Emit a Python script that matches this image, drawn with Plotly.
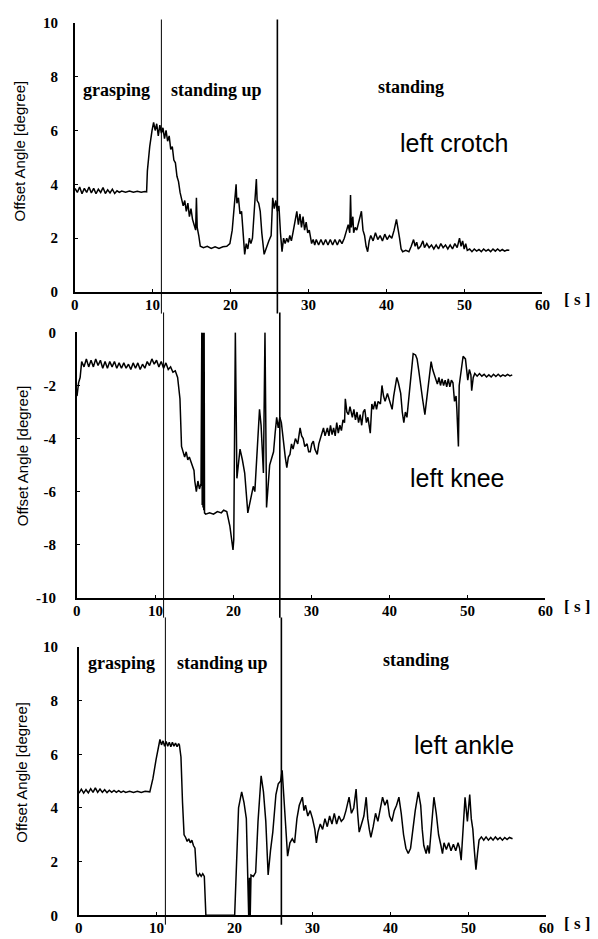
import plotly.graph_objects as go

# ---------------- data ----------------
x_ticks = [0, 10, 20, 30, 40, 50, 60]
phase_times = [11.1, 26.0]
phase_labels = ["grasping", "standing up", "standing"]
joint_names = ["left crotch", "left knee", "left ankle"]
y_label = "Offset Angle [degree]"
x_unit = "[ s ]"

crotch = [(0.0,3.85),(0.3,3.7),(0.6,3.9),(0.9,3.65),(1.2,3.85),(1.5,3.7),(1.8,3.9),(2.1,3.68),(2.4,3.85),(2.7,3.65),
(3.0,3.82),(3.3,3.7),(3.6,3.88),(3.9,3.66),(4.2,3.8),(4.5,3.68),(4.8,3.82),(5.1,3.66),(5.4,3.76),(5.7,3.7),(6.0,3.75),
(6.5,3.71),(7.0,3.75),(7.5,3.71),(8.0,3.74),(8.5,3.71),(9.0,3.73),(9.2,3.72),(9.3,4.5),(9.6,5.4),(9.9,6.0),(10.1,6.3),
(10.3,6.0),(10.5,6.25),(10.7,5.8),(10.9,6.2),(11.1,5.9),(11.3,6.1),(11.5,5.7),(11.7,6.0),(11.9,5.6),(12.1,5.8),(12.3,5.3),
(12.5,5.4),(12.7,4.9),(12.9,4.8),(13.1,4.3),(13.3,4.1),(13.5,3.7),(13.7,3.5),(13.9,3.2),(14.1,3.4),(14.3,3.0),(14.5,3.3),
(14.7,2.8),(14.9,3.1),(15.1,2.7),(15.3,2.5),(15.5,2.3),(15.6,3.5),(15.7,2.4),(15.9,2.1),(16.1,1.7),(16.5,1.65),(17.0,1.7),
(17.5,1.62),(18.0,1.68),(18.5,1.62),(19.0,1.68),(19.5,1.7),(19.9,1.8),(20.2,2.3),(20.5,3.4),(20.7,4.0),(20.8,3.3),(21.0,3.5),
(21.2,2.9),(21.4,3.0),(21.6,2.2),(21.8,1.4),(22.0,1.8),(22.2,1.6),(22.4,2.0),(22.6,1.8),(22.8,2.0),(23.0,2.8),(23.3,4.2),
(23.4,3.4),(23.6,3.3),(23.8,3.0),(24.0,2.2),(24.3,1.4),(24.6,1.7),(24.9,1.9),(25.2,2.1),(25.4,3.5),(25.6,3.1),(25.8,3.4),
(26.0,3.0),(26.2,3.2),(26.4,2.2),(26.6,1.5),(26.8,2.0),(27.0,1.8),(27.2,2.0),(27.4,1.85),(27.6,2.1),(27.8,1.9),(28.0,2.2),
(28.3,2.7),(28.5,3.0),(28.7,2.5),(28.9,2.9),(29.1,2.4),(29.3,2.8),(29.5,2.3),(29.7,2.6),(29.9,2.2),(30.1,2.3),(30.4,1.8),
(30.6,1.95),(30.8,1.75),(31.0,1.95),(31.3,1.75),(31.6,1.95),(31.9,1.75),(32.2,1.95),(32.5,1.75),(32.8,1.95),(33.1,1.75),
(33.4,1.95),(33.7,1.75),(34.0,1.95),(34.3,1.8),(34.6,2.0),(34.9,2.3),(35.1,2.5),(35.3,2.2),(35.4,3.6),(35.5,2.4),(35.7,2.8),
(35.8,2.2),(36.0,2.4),(36.2,2.3),(36.5,2.6),(36.8,3.0),(37.0,2.3),(37.2,2.1),(37.4,1.7),(37.6,1.5),(37.8,1.9),(38.0,2.1),
(38.3,1.9),(38.6,2.2),(38.9,1.95),(39.2,2.1),(39.5,1.9),(39.8,2.15),(40.1,1.95),(40.4,2.1),(40.7,2.0),(41.0,2.3),(41.3,2.7),
(41.5,2.4),(41.7,2.0),(41.9,1.6),(42.1,1.5),(42.5,1.55),(42.9,1.5),(43.2,1.7),(43.5,1.95),(43.7,1.7),(43.9,1.85),(44.1,1.6),
(44.4,1.7),(44.7,1.9),(44.9,1.65),(45.2,1.8),(45.5,1.65),(45.8,1.75),(46.1,1.6),(46.4,1.75),(46.7,1.6),(47.0,1.8),(47.3,1.65),
(47.6,1.75),(47.9,1.6),(48.2,1.75),(48.5,1.6),(48.8,1.8),(49.1,1.65),(49.4,2.0),(49.6,1.7),(49.8,1.9),(50.0,1.6),(50.2,1.8),
(50.4,1.55),(50.7,1.6),(51.0,1.5),(51.3,1.6),(51.6,1.52),(51.9,1.58),(52.2,1.5),(52.5,1.6),(52.8,1.52),(53.1,1.58),(53.4,1.5),
(53.7,1.6),(54.0,1.52),(54.3,1.6),(54.6,1.52),(54.9,1.58),(55.2,1.52),(55.5,1.56),(55.8,1.55)]

knee = [(0.0,-2.4),(0.2,-1.9),(0.4,-1.7),(0.6,-1.1),(0.9,-1.3),(1.2,-1.0),(1.5,-1.3),(1.8,-1.05),(2.1,-1.3),(2.4,-1.0),
(2.7,-1.25),(3.0,-1.05),(3.3,-1.35),(3.6,-1.1),(3.9,-1.35),(4.2,-1.1),(4.5,-1.3),(4.8,-1.1),(5.1,-1.35),(5.4,-1.15),(5.7,-1.35),
(6.0,-1.15),(6.3,-1.35),(6.6,-1.2),(6.9,-1.4),(7.2,-1.15),(7.5,-1.35),(7.8,-1.15),(8.1,-1.4),(8.4,-1.2),(8.7,-1.35),(9.0,-1.1),
(9.3,-1.25),(9.6,-1.0),(9.9,-1.2),(10.2,-1.05),(10.5,-1.3),(10.8,-1.1),(11.1,-1.35),(11.4,-1.15),(11.7,-1.4),(12.0,-1.3),
(12.3,-1.5),(12.6,-1.45),(12.9,-1.7),(13.2,-2.5),(13.4,-4.3),(13.6,-4.5),(13.8,-4.7),(14.0,-4.5),(14.2,-4.8),(14.4,-4.7),
(14.6,-4.9),(14.8,-5.0),(15.0,-5.2),(15.1,-5.6),(15.3,-6.0),(15.5,-5.6),(15.7,-5.9),(15.9,-5.7),(16.0,0.0),(16.05,-6.5),
(16.1,0.0),(16.15,-6.6),(16.2,0.0),(16.25,-6.7),(16.3,0.0),(16.35,-6.8),(16.5,-6.85),(17.0,-6.8),(17.5,-6.85),(18.0,-6.75),
(18.5,-6.8),(18.8,-6.7),(19.2,-6.75),
(19.6,-7.3),(20.0,-8.2),(20.1,-7.8),(20.3,0.0),(20.5,-5.5),(20.9,-4.4),(21.2,-4.8),(21.5,-5.3),(21.9,-6.8),(22.3,-6.2),
(22.6,-5.8),(22.8,-6.0),(23.1,-4.5),(23.4,-2.9),(23.6,-3.5),(23.9,-5.3),(24.1,0.0),(24.3,-6.6),(24.7,-5.0),(25.0,-4.7),
(25.2,-4.5),(25.4,-3.8),(25.6,-3.2),(25.8,-3.6),(26.0,-3.2),(26.2,-3.4),(26.4,-4.0),(26.7,-4.7),(26.9,-5.1),(27.1,-4.7),
(27.3,-4.6),(27.5,-4.2),(27.7,-4.4),(28.0,-4.0),(28.3,-4.2),(28.6,-3.6),(28.8,-3.9),(29.0,-4.0),(29.2,-4.3),(29.5,-4.2),
(29.7,-4.5),(29.9,-4.5),(30.1,-4.2),(30.3,-4.1),(30.5,-4.4),(30.8,-4.6),(31.0,-4.2),(31.2,-4.0),(31.4,-3.8),(31.6,-3.6),
(31.8,-3.9),(32.1,-3.6),(32.3,-3.9),(32.5,-3.5),(32.7,-3.85),(32.9,-3.6),(33.1,-3.9),(33.3,-3.4),(33.5,-3.8),(33.7,-3.5),
(33.9,-3.7),(34.1,-3.3),(34.3,-3.4),(34.4,-2.5),(34.6,-3.0),(34.8,-3.1),(35.0,-2.8),(35.3,-3.2),(35.5,-2.9),(35.7,-3.3),
(35.9,-3.0),(36.1,-3.4),(36.3,-3.1),(36.5,-3.5),(36.7,-3.0),(36.9,-2.9),(37.1,-3.4),(37.3,-3.2),(37.6,-3.8),(37.8,-2.7),
(38.0,-2.9),(38.2,-2.6),(38.4,-2.9),(38.6,-2.6),(38.9,-2.7),(39.1,-2.0),(39.3,-2.4),(39.5,-2.6),(39.8,-2.3),(40.0,-2.5),
(40.2,-2.7),(40.4,-2.9),(40.6,-2.4),(40.8,-2.0),(41.0,-1.7),(41.2,-1.9),(41.5,-2.3),(41.7,-3.0),(41.9,-3.4),(42.1,-3.0),
(42.3,-3.2),(42.6,-2.3),(42.9,-1.2),(43.1,-0.8),(43.4,-0.85),(43.6,-1.0),(43.8,-1.4),(44.0,-1.9),(44.3,-2.5),(44.6,-3.1),
(44.8,-2.6),(45.0,-2.0),(45.2,-1.4),(45.4,-1.1),(45.6,-1.4),(45.8,-1.6),(46.0,-1.8),(46.2,-1.95),(46.4,-1.7),(46.6,-2.0),
(46.8,-1.75),(47.0,-2.0),(47.2,-1.8),(47.4,-2.05),(47.6,-1.75),(47.8,-2.05),(48.0,-1.8),(48.2,-1.9),(48.4,-2.6),(48.6,-2.4),
(48.7,-2.9),(48.9,-4.3),(49.0,-2.0),(49.2,-1.5),(49.5,-0.9),(49.8,-1.0),(50.0,-1.5),(50.1,-1.8),(50.3,-1.4),(50.5,-1.6),
(50.6,-2.2),(50.8,-1.7),(51.0,-1.55),(51.3,-1.65),(51.6,-1.55),(51.9,-1.65),(52.2,-1.58),(52.5,-1.68),(52.8,-1.6),
(53.1,-1.68),(53.4,-1.58),(53.7,-1.66),(54.0,-1.58),(54.3,-1.66),(54.6,-1.6),(54.9,-1.65),(55.2,-1.58),(55.5,-1.64),(55.8,-1.6)]

ankle = [(0.0,4.55),(0.3,4.7),(0.6,4.55),(0.9,4.68),(1.2,4.56),(1.5,4.72),(1.8,4.58),(2.1,4.75),(2.4,4.58),(2.7,4.7),
(3.0,4.58),(3.3,4.68),(3.6,4.57),(3.9,4.66),(4.2,4.58),(4.5,4.65),(4.8,4.58),(5.1,4.64),(5.4,4.58),(5.7,4.63),(6.0,4.58),
(6.5,4.62),(7.0,4.58),(7.5,4.62),(8.0,4.58),(8.5,4.62),(9.1,4.6),(9.5,5.1),(9.9,5.8),(10.2,6.3),(10.4,6.55),(10.6,6.35),
(10.8,6.5),(11.0,6.3),(11.2,6.48),(11.4,6.3),(11.6,6.45),(11.8,6.28),(12.0,6.45),(12.2,6.3),(12.4,6.42),(12.6,6.28),
(12.8,6.4),(12.9,6.35),(13.1,5.9),(13.3,4.2),(13.5,3.0),(13.7,2.9),(13.9,2.75),(14.1,2.85),(14.3,2.7),(14.5,2.8),(14.7,2.6),
(14.9,2.5),(15.1,1.55),(15.3,1.45),(15.5,1.55),(15.7,1.45),(15.9,1.55),(16.1,1.45),(16.3,0.0),(20.0,0.0),(20.2,1.5),
(20.5,4.0),(20.9,4.6),(21.2,4.2),(21.5,3.6),(21.7,1.5),(21.8,0.0),(21.9,1.4),(22.0,0.0),(22.1,1.5),(22.4,1.45),(22.7,1.6),
(23.0,3.5),(23.4,5.2),(23.7,4.6),(24.0,3.5),(24.3,1.5),(24.6,2.4),(24.9,3.1),(25.3,4.5),(25.6,4.9),(25.9,5.0),(26.1,5.4),
(26.3,4.5),(26.5,3.5),(26.8,2.2),(27.1,2.7),(27.4,2.85),(27.7,2.7),(28.0,3.6),(28.3,4.1),(28.7,4.4),(28.9,3.9),(29.1,4.1),
(29.4,3.7),(29.7,3.9),(30.0,3.6),(30.3,3.2),(30.5,2.7),(30.7,3.1),(31.0,3.4),(31.3,3.2),(31.6,3.6),(31.9,3.3),(32.2,3.7),
(32.5,3.4),(32.8,3.8),(33.1,3.4),(33.4,3.7),(33.7,3.5),(34.0,3.6),(34.3,3.9),(34.7,4.4),(35.0,3.8),(35.3,4.0),(35.6,4.7),
(35.8,3.8),(36.0,3.1),(36.3,3.4),(36.6,3.7),(36.9,4.4),(37.1,3.6),(37.3,3.2),(37.5,2.9),(37.8,3.3),(38.1,3.8),(38.4,3.5),
(38.7,3.9),(39.0,4.4),(39.3,4.1),(39.6,4.3),(39.9,3.7),(40.2,3.5),(40.5,3.9),(40.8,4.1),(41.1,4.4),(41.4,3.8),(41.7,3.0),
(42.0,2.5),(42.3,2.3),(42.6,2.5),(42.9,3.2),(43.2,3.9),(43.6,4.6),(43.9,4.1),(44.1,3.2),(44.3,2.6),(44.6,2.3),(44.8,2.6),
(45.0,2.3),(45.3,3.4),(45.6,4.4),(45.9,3.8),(46.2,3.0),(46.5,2.6),(46.7,2.3),(46.9,2.7),(47.2,2.45),(47.5,2.7),(47.8,2.4),
(48.1,2.65),(48.4,2.4),(48.7,2.7),(48.9,2.5),(49.1,2.05),(49.3,3.2),(49.6,4.4),(49.9,3.5),(50.2,4.5),(50.4,3.6),(50.6,3.2),
(50.8,2.4),(51.0,1.7),(51.2,2.3),(51.4,2.8),(51.7,2.92),(52.0,2.8),(52.3,2.92),(52.6,2.8),(52.9,2.9),(53.2,2.8),(53.5,2.92),
(53.8,2.82),(54.1,2.9),(54.4,2.8),(54.7,2.9),(55.0,2.82),(55.3,2.9),(55.7,2.85)]

crotch_ticks = [0, 2, 4, 6, 8, 10]
knee_ticks = [0, -2, -4, -6, -8, -10]
ankle_ticks = [0, 2, 4, 6, 8, 10]

# ---------------- figure ----------------
W, H = 598, 939
SERIF = "Liberation Serif"
SANS = "Liberation Sans"

def px_x(p):
    return p / W

def px_y(p):
    return (H - p) / H

panels = [
    dict(data=crotch, ticks=crotch_ticks, yr=[0, 10], xd=(75, 542), yd=(15, 289), name=joint_names[0],
         name_pos=(48.7, 5.55), phases=[(5.3, 7.52), (18.2, 7.52), (43.2, 7.63)], standoff=12,
         vext=(-0.08, 1.012), ylab=(20, 146), unit_y=297),
    dict(data=knee, ticks=knee_ticks, yr=[-10, 0], xd=(77, 545), yd=(330, 600), name=joint_names[1],
         name_pos=(48.8, -5.48), phases=None, standoff=16,
         vext=(-0.075, 1.075), ylab=(22, 456), unit_y=609),
    dict(data=ankle, ticks=ankle_ticks, yr=[0, 10], xd=(79, 546), yd=(650, 923), name=joint_names[2],
         name_pos=(49.4, 6.34), phases=[(5.5, 9.41), (18.4, 9.41), (43.3, 9.52)], standoff=16,
         vext=(-0.035, 1.11), ylab=(22, 778), unit_y=931),
]

fig = go.Figure()
layout = dict(width=W, height=H, margin=dict(l=0, r=0, t=0, b=0),
              paper_bgcolor="white", plot_bgcolor="white", showlegend=False)
annotations = []
shapes = []

for i, p in enumerate(panels, start=1):
    sfx = "" if i == 1 else str(i)
    xa, ya = "x" + sfx, "y" + sfx
    t_vals = [d[0] for d in p["data"]]
    a_vals = [d[1] for d in p["data"]]
    fig.add_trace(go.Scatter(x=t_vals, y=a_vals, mode="lines", xaxis=xa, yaxis=ya,
                             line=dict(color="black", width=1.5), hoverinfo="skip"))
    layout["xaxis" + sfx] = dict(
        domain=[px_x(p["xd"][0]), px_x(p["xd"][1])], range=[0, 60], anchor=ya,
        tickmode="array", tickvals=x_ticks, showticklabels=False,
        ticks="inside", ticklen=3, tickwidth=1.2, tickcolor="black",
        showline=True, linecolor="black", linewidth=2, showgrid=False, zeroline=False,
    )
    layout["yaxis" + sfx] = dict(
        domain=[px_y(p["yd"][1]), px_y(p["yd"][0])], range=p["yr"], anchor=xa,
        tickmode="array", tickvals=p["ticks"], ticktext=[str(v) for v in p["ticks"]],
        ticks="inside", ticklen=3, tickwidth=1.2, tickcolor="black",
        showline=True, linecolor="black", linewidth=2, showgrid=False, zeroline=False,
        tickfont=dict(family=SERIF, size=15, color="black", weight="bold"),
        ticklabelstandoff=p["standoff"],
    )
    # x tick labels (placed close under the axis line, as in the original)
    for v in x_ticks:
        annotations.append(dict(x=v, y=0, xref=xa, yref=ya + " domain", text="<b>%d</b>" % v,
                                xanchor="center", yanchor="top", yshift=-3, showarrow=False,
                                font=dict(family=SERIF, size=15, color="black")))
    # phase boundary lines
    for k, tb in enumerate(phase_times):
        shapes.append(dict(type="line", xref=xa, yref=ya + " domain", x0=tb, x1=tb,
                           y0=p["vext"][0], y1=p["vext"][1],
                           line=dict(color="black", width=1 if k == 0 else 1.6)))
    # joint name
    annotations.append(dict(x=p["name_pos"][0], y=p["name_pos"][1], xref=xa, yref=ya,
                            xanchor="center", yanchor="middle",
                            text=p["name"], showarrow=False,
                            font=dict(family=SANS, size=25, color="black")))
    # phase labels
    if p["phases"]:
        for lab, pos in zip(phase_labels, p["phases"]):
            annotations.append(dict(x=pos[0], y=pos[1], xref=xa, yref=ya, text="<b>%s</b>" % lab,
                                    xanchor="center", yanchor="middle", showarrow=False,
                                    font=dict(family=SERIF, size=18, color="black")))
    # y axis title
    annotations.append(dict(x=px_x(p["ylab"][0]), y=px_y(p["ylab"][1]), xref="paper", yref="paper",
                            xanchor="center", yanchor="middle",
                            text=y_label, textangle=-90, showarrow=False,
                            font=dict(family=SANS, size=15, color="black")))
    # unit label
    annotations.append(dict(x=px_x(577), y=px_y(p["unit_y"]), xref="paper", yref="paper",
                            xanchor="center", yanchor="middle",
                            text="<b>%s</b>" % x_unit, showarrow=False,
                            font=dict(family=SERIF, size=17, color="black")))

layout["annotations"] = annotations
layout["shapes"] = shapes
fig.update_layout(**layout)
fig.write_html("out.html")
